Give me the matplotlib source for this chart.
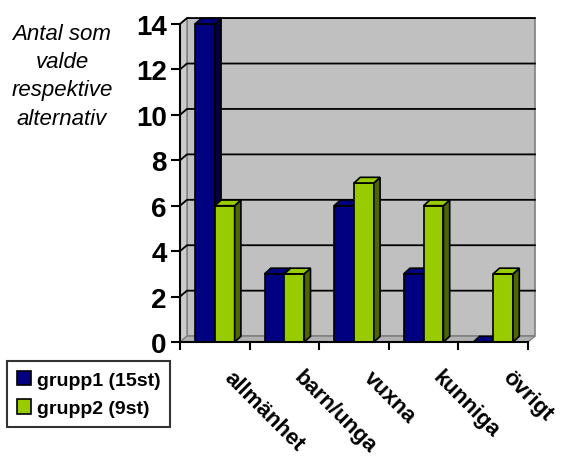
import matplotlib.pyplot as plt
from matplotlib.patches import Polygon, Patch

plt.rcParams['font.family'] = ['Liberation Sans', 'DejaVu Sans']

categories = ["allmänhet", "barn/unga", "vuxna", "kunniga", "övrigt"]
grupp1 = [14, 3, 6, 3, 0]
grupp2 = [6, 3, 7, 6, 3]
series_names = ["grupp1 (15st)", "grupp2 (9st)"]
y_ticks = [0, 2, 4, 6, 8, 10, 12, 14]

front_colors = ["#000080", "#99CC00"]
side_colors = ["#000040", "#4D6600"]
wall_color = "#C0C0C0"

# depth of the fake 3d box in data units
ddx, ddy = 0.10, 0.26
bdx, bdy = 0.09, 0.25
bar_w = 0.285

fig = plt.figure(figsize=(5.64, 4.64), dpi=100)
ax = fig.add_axes([180 / 564, 121 / 464, 348 / 564, 318 / 464])
n = len(categories)
ymax = y_ticks[-1]
ax.set_xlim(0, n)
ax.set_ylim(0, ymax)

# back wall, side wall, floor
ax.add_patch(Polygon([(ddx, ddy), (n + ddx, ddy), (n + ddx, ymax + ddy), (ddx, ymax + ddy)],
                     closed=True, facecolor=wall_color, edgecolor="#808080", lw=1.2,
                     zorder=0, clip_on=False))
ax.add_patch(Polygon([(0, 0), (ddx, ddy), (ddx, ymax + ddy), (0, ymax)],
                     closed=True, facecolor="#CCCCCC", edgecolor="#808080", lw=1,
                     zorder=0, clip_on=False))
ax.add_patch(Polygon([(0, 0), (n, 0), (n + ddx, ddy), (ddx, ddy)],
                     closed=True, facecolor="#B0B0B0", edgecolor="#808080", lw=1,
                     zorder=0, clip_on=False))
for v in y_ticks[1:]:
    ax.plot([0, ddx, n + ddx], [v, v + ddy, v + ddy], color="black", lw=1.3,
            zorder=1, clip_on=False)

# bars with side and top faces
for i in range(n):
    for s, vals in enumerate([grupp1, grupp2]):
        x0 = i + 0.5 - bar_w + s * bar_w
        x1 = x0 + bar_w
        h = vals[i]
        z = 2 + i * 2 + s
        ax.bar(x0, h, width=bar_w, align="edge", color=front_colors[s],
               edgecolor="black", lw=1.2, zorder=z, clip_on=False)
        ax.add_patch(Polygon([(x1, 0), (x1 + bdx, bdy), (x1 + bdx, h + bdy), (x1, h)],
                             closed=True, facecolor=side_colors[s], edgecolor="black",
                             lw=1.2, zorder=z, clip_on=False))
        ax.add_patch(Polygon([(x0, h), (x1, h), (x1 + bdx, h + bdy), (x0 + bdx, h + bdy)],
                             closed=True, facecolor=front_colors[s], edgecolor="black",
                             lw=1.2, zorder=z, clip_on=False))

for side in ["top", "right"]:
    ax.spines[side].set_visible(False)
for side in ["left", "bottom"]:
    ax.spines[side].set_linewidth(1.5)
    ax.spines[side].set_zorder(30)

ax.set_yticks(y_ticks)
ax.set_yticklabels([str(v) for v in y_ticks], fontsize=20, fontweight="bold")
ax.tick_params(axis="y", length=6.5, width=1.5, pad=3)
ax.set_xticks(range(n + 1))
ax.set_xticklabels([])
ax.tick_params(axis="x", length=6, width=1.5)

for i, lab in enumerate(categories):
    ax.text(i + 0.68, -1.4, lab, rotation=-45, rotation_mode="anchor",
            ha="left", va="center", fontsize=16, fontweight="bold", clip_on=False)

fig.text(62 / 564, 1 - 24 / 464, "Antal som\nvalde\nrespektive\nalternativ",
         ha="center", va="top", fontsize=16, style="italic", linespacing=1.45)

handles = [Patch(facecolor=c, edgecolor="black", lw=1.2) for c in front_colors]
leg = fig.legend(handles, series_names, loc="upper left",
                 bbox_to_anchor=(7 / 564, 1 - 362 / 464),
                 prop={"size": 14, "weight": "bold"}, fancybox=False,
                 handlelength=0.75, handleheight=0.75, handletextpad=0.3,
                 borderpad=0.5, labelspacing=0.55, borderaxespad=0)
leg.get_frame().set_edgecolor("black")
leg.get_frame().set_linewidth(1.5)

fig.savefig("out.png", dpi=100)
